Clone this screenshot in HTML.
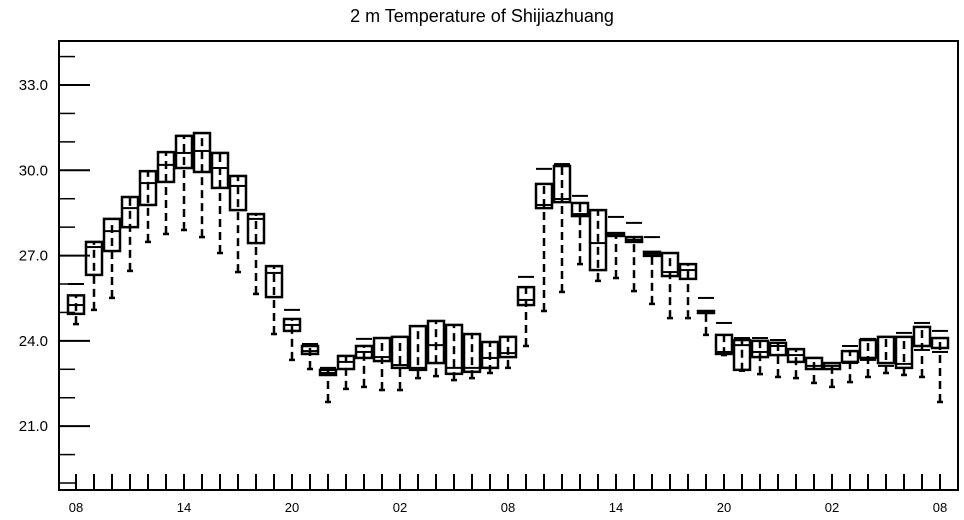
<!DOCTYPE html>
<html><head><meta charset="utf-8"><style>
body{margin:0;background:#fff;}
svg{display:block;font-family:"Liberation Sans",Arial,sans-serif;}
</style></head><body>
<svg id="chart" width="964" height="520" viewBox="0 0 964 520" xmlns="http://www.w3.org/2000/svg">
<text x="482" y="22" text-anchor="middle" font-size="18" fill="#000">2 m Temperature of Shijiazhuang</text>
<g id="axes"></g>
<g id="boxes"></g>
<rect x="59" y="41" width="899" height="449" fill="none" stroke="#000" stroke-width="2"/>
</svg>
<script>
const xLabels = ["08","14","20","02","08","14","20","02","08"];
const yTicks = [21,24,27,30,33];
const yTickLabels = ["21.0","24.0","27.0","30.0","33.0"];
const maxVals = [26.0,27.48,28.29,29.06,29.97,30.64,31.21,31.31,30.61,29.80,28.46,26.63,25.09,23.89,23.05,23.47,24.07,24.10,24.14,24.52,24.70,24.56,24.24,23.96,24.14,26.25,30.05,30.22,29.10,28.60,28.36,28.15,27.65,27.09,26.70,25.51,24.63,24.10,24.10,24.03,23.71,23.40,23.22,23.82,24.07,24.14,24.28,24.63,24.35];
const q3Vals = [25.6,27.48,28.29,29.06,29.97,30.64,31.21,31.31,30.61,29.80,28.46,26.63,24.77,23.82,22.98,23.47,23.82,24.10,24.14,24.52,24.70,24.56,24.24,23.96,24.14,25.89,29.52,30.15,28.85,28.60,27.79,27.65,27.13,27.09,26.70,25.05,24.21,24.03,24.0,23.93,23.71,23.40,23.22,23.64,24.03,24.14,24.14,24.49,24.10];
const medVals = [25.26,27.3,27.86,28.67,29.55,30.19,30.61,30.68,30.08,29.45,28.29,26.39,24.56,23.64,22.87,23.26,23.61,23.43,23.15,23.05,23.85,23.05,23.05,23.40,23.57,25.44,28.78,28.99,28.46,27.44,27.72,27.55,27.06,26.42,26.49,25.02,23.61,23.85,23.61,23.82,23.50,23.12,23.12,23.22,23.33,23.12,23.19,23.68,23.61];
const q1Vals = [24.95,26.32,27.16,28.0,28.78,29.59,30.08,29.94,29.38,28.60,27.44,25.54,24.35,23.54,22.80,23.01,23.40,23.29,23.05,22.98,23.22,22.84,22.91,23.05,23.43,25.26,28.67,28.88,28.39,26.49,27.69,27.48,26.99,26.28,26.18,24.98,23.54,22.98,23.43,23.50,23.26,23.01,23.01,23.26,23.40,23.22,23.05,23.82,23.75];
const minVals = [24.59,25.09,25.51,26.46,27.48,27.76,27.90,27.65,27.09,26.42,25.65,24.24,23.33,23.01,21.85,22.31,22.38,22.27,22.27,22.69,22.76,22.62,22.69,22.87,23.05,23.82,25.05,25.72,26.70,26.11,26.21,25.75,25.30,24.80,24.80,24.21,23.5,22.95,22.83,22.73,22.69,22.52,22.38,22.55,22.73,22.87,22.80,22.73,21.85];

const NS="http://www.w3.org/2000/svg";
function xs(i){return 76+18*i;}
function ys(v){return 85+(33-v)*28.43;}
function mk(tag,attrs,parent){const e=document.createElementNS(NS,tag);for(const k in attrs)e.setAttribute(k,attrs[k]);parent.appendChild(e);return e;}
const axes=document.getElementById('axes');
const boxes=document.getElementById('boxes');
// y minor ticks
for(let v=19;v<=34;v++){
  const major=yTicks.indexOf(v)>=0;
  const t=mk('line',{x1:59,x2:major?90:75,y1:ys(v),y2:ys(v),stroke:'#000','stroke-width':major?2:1.5},axes);
  
  
}
yTicks.forEach((v,i)=>{
  const t=mk('text',{x:48,y:ys(v)+5,'text-anchor':'end','font-size':'15',fill:'#000'},axes);
  t.textContent=yTickLabels[i];
  
  
});
for(let i=0;i<maxVals.length;i++){
  const t=mk('line',{x1:xs(i),x2:xs(i),y1:474,y2:490,stroke:'#000','stroke-width':2},axes);
  
  
}
xLabels.forEach((l,i)=>{
  const t=mk('text',{x:xs(i*6),y:512,'text-anchor':'middle','font-size':'13',fill:'#000'},axes);
  t.textContent=l;
  
  
});
for(let i=0;i<maxVals.length;i++){
  const g=mk('g',{},boxes);
  
  
  const x=xs(i),w=16;
  const top=ys(q3Vals[i]),bot=ys(q1Vals[i]);
  mk('line',{x1:x,x2:x,y1:ys(minVals[i]),y2:top,stroke:'#000','stroke-width':2.5,'stroke-dasharray':'8,5'},g);
  mk('rect',{x:x-w/2,y:Math.min(top,bot),width:w,height:Math.max(1,Math.abs(bot-top)),fill:'none',stroke:'#000','stroke-width':2.5},g);
  mk('line',{x1:x-w/2,x2:x+w/2,y1:ys(medVals[i]),y2:ys(medVals[i]),stroke:'#000','stroke-width':2},g);
  mk('line',{x1:x-w/2,x2:x+w/2,y1:ys(maxVals[i]),y2:ys(maxVals[i]),stroke:'#000','stroke-width':2},g);
  mk('line',{x1:x-3,x2:x+3,y1:ys(minVals[i]),y2:ys(minVals[i]),stroke:'#000','stroke-width':2.5},g);
}
</script>
</body></html>
